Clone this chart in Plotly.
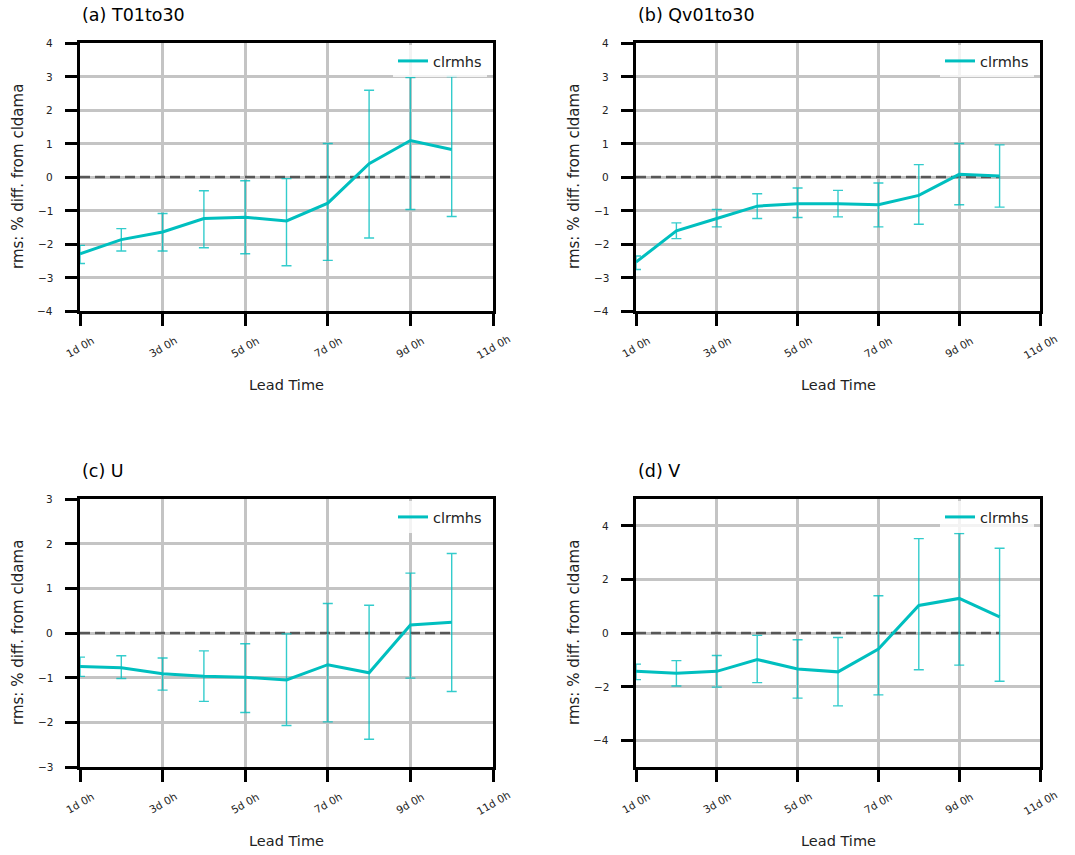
import plotly.graph_objects as go

# Lead times (days) and the x-axis tick labels
days = [1, 2, 3, 4, 5, 6, 7, 8, 9, 10]
tick_days = [1, 3, 5, 7, 9, 11]
tick_text = ["1d 0h", "3d 0h", "5d 0h", "7d 0h", "9d 0h", "11d 0h"]

# (a) T01to30
t_mean = [-2.29, -1.87, -1.64, -1.24, -1.20, -1.31, -0.78, 0.40, 1.09, 0.82]
t_upper = [-2.04, -1.54, -1.09, -0.41, -0.11, -0.05, 1.00, 2.59, 2.97, 3.00]
t_lower = [-2.58, -2.21, -2.21, -2.11, -2.29, -2.65, -2.49, -1.82, -0.97, -1.18]

# (b) Qv01to30
q_mean = [-2.54, -1.61, -1.24, -0.87, -0.80, -0.80, -0.83, -0.55, 0.08, 0.03]
q_upper = [-2.36, -1.37, -0.97, -0.50, -0.33, -0.40, -0.18, 0.37, 1.00, 0.96]
q_lower = [-2.76, -1.84, -1.49, -1.24, -1.21, -1.19, -1.49, -1.41, -0.83, -0.90]

# (c) U
u_mean = [-0.75, -0.78, -0.91, -0.97, -0.99, -1.05, -0.71, -0.89, 0.18, 0.24]
u_upper = [-0.54, -0.51, -0.56, -0.40, -0.24, -0.02, 0.66, 0.62, 1.34, 1.78]
u_lower = [-0.97, -1.02, -1.28, -1.53, -1.78, -2.07, -1.99, -2.38, -1.01, -1.31]

# (d) V
v_mean = [-1.43, -1.50, -1.43, -0.99, -1.34, -1.45, -0.60, 1.03, 1.29, 0.60]
v_upper = [-1.16, -1.03, -0.84, -0.09, -0.25, -0.17, 1.39, 3.52, 3.71, 3.16]
v_lower = [-1.74, -1.98, -2.02, -1.85, -2.43, -2.72, -2.31, -1.37, -1.20, -1.80]

# y-axis ticks of each panel
yticks_a = [-4, -3, -2, -1, 0, 1, 2, 3, 4]
yticks_b = [-4, -3, -2, -1, 0, 1, 2, 3, 4]
yticks_c = [-3, -2, -1, 0, 1, 2, 3]
yticks_d = [-4, -2, 0, 2, 4]

titles = ["(a) T01to30", "(b) Qv01to30", "(c) U", "(d) V"]
series_name = "clrmhs"
y_title = "rms: % diff. from cldama"
x_title = "Lead Time"

W, H = 1075, 855
LINE = "#00bfbf"
ERR = "rgba(0,191,191,0.8)"
FONT = "DejaVu Sans, Liberation Sans, sans-serif"

# panel boxes in pixels: (left, right, top, bottom)
boxes = [(80, 493, 43, 311), (636, 1040, 43, 311),
         (80, 493, 499, 767), (636, 1040, 499, 767)]
yranges = [(-4, 4), (-4, 4), (-3, 3), (-5, 5)]
yticks = [yticks_a, yticks_b, yticks_c, yticks_d]

panels = [(t_mean, t_upper, t_lower), (q_mean, q_upper, q_lower),
          (u_mean, u_upper, u_lower), (v_mean, v_upper, v_lower)]


def fmt(v):
    # tick text with a typographic minus sign
    return ("\u2212" + str(-v)) if v < 0 else str(v)


fig = go.Figure()
annotations = []
layout = dict(
    width=W, height=H,
    margin=dict(l=0, r=0, t=0, b=0),
    paper_bgcolor="white", plot_bgcolor="white",
    font=dict(family=FONT, color="#222"),
)

for i, ((mean, upper, lower), (l, r, t, b)) in enumerate(zip(panels, boxes)):
    k = "" if i == 0 else str(i + 1)
    xa, ya = "x" + k, "y" + k
    leg = "legend" + k

    # dashed reference line at zero over the lead-time span
    fig.add_trace(go.Scatter(
        x=[days[0], days[-1]], y=[0, 0], mode="lines",
        line=dict(color="rgba(60,60,60,0.8)", width=2.5, dash="10px,5px"),
        showlegend=False, hoverinfo="skip", xaxis=xa, yaxis=ya))

    fig.add_trace(go.Scatter(
        x=days, y=mean, mode="lines", name=series_name,
        line=dict(color=LINE, width=3),
        error_y=dict(type="data", symmetric=False,
                     array=[u - m for u, m in zip(upper, mean)],
                     arrayminus=[m - lo for m, lo in zip(mean, lower)],
                     color=ERR, thickness=1.4, width=5),
        xaxis=xa, yaxis=ya, legend=leg))

    axis_common = dict(
        showline=True, mirror=True, linecolor="black", linewidth=2.5,
        showgrid=True, gridcolor="#c4c4c4", gridwidth=2.5,
        ticks="outside", ticklen=12, tickwidth=2.5, tickcolor="black",
        zeroline=False, showticklabels=False,
    )
    layout["xaxis" + k] = dict(
        axis_common, domain=[l / W, r / W], anchor=ya,
        range=[1, 11], tickvals=tick_days, ticktext=tick_text)
    layout["yaxis" + k] = dict(
        axis_common, domain=[1 - b / H, 1 - t / H], anchor=xa,
        range=list(yranges[i]), tickvals=yticks[i])

    layout[leg] = dict(
        x=(r - 6) / W, xanchor="right", y=1 - (t + 18) / H, yanchor="middle",
        bgcolor="rgba(255,255,255,0.8)", borderwidth=0,
        font=dict(size=14.5, color="#222"))

    # rotated x tick labels
    for d, txt in zip(tick_days, tick_text):
        annotations.append(dict(
            x=d, xref=xa, y=1 - (b + 36) / H, yref="paper",
            text=txt, textangle=-30, showarrow=False,
            xanchor="center", yanchor="middle",
            font=dict(size=10.5, color="#222")))

    # y tick labels
    for v in yticks[i]:
        annotations.append(dict(
            x=(l - 25) / W, xref="paper", y=v, yref=ya,
            text=fmt(v), showarrow=False, xanchor="right", yanchor="middle",
            font=dict(size=10.5, color="#222")))

    # panel title
    annotations.append(dict(
        x=l / W, xref="paper", y=1 - (t - 28) / H, yref="paper",
        text=titles[i], showarrow=False, xanchor="left", yanchor="middle",
        font=dict(size=17.5, color="black")))

    # axis titles
    annotations.append(dict(
        x=(l + r) / 2 / W, xref="paper", y=1 - (b + 74) / H, yref="paper",
        text=x_title, showarrow=False, xanchor="center", yanchor="middle",
        font=dict(size=14.5, color="#222")))
    annotations.append(dict(
        x=(l - 62) / W, xref="paper", y=1 - (t + b) / 2 / H, yref="paper",
        text=y_title, textangle=-90, showarrow=False,
        xanchor="center", yanchor="middle",
        font=dict(size=15, color="#222")))

layout["annotations"] = annotations
fig.update_layout(**layout)
fig.write_html("out.html")
